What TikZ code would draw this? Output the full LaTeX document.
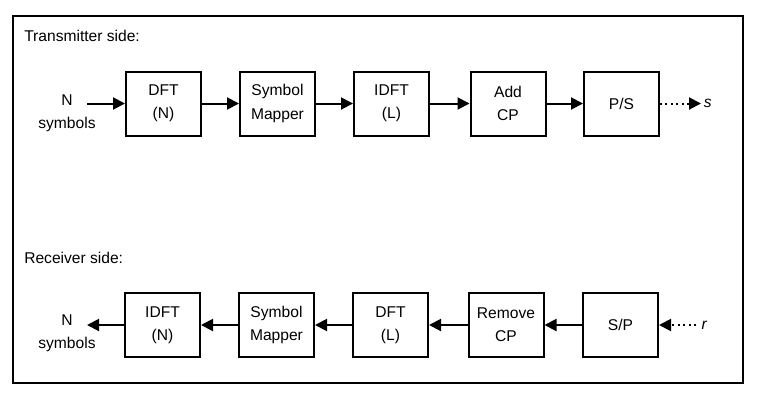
\documentclass[tikz,border=0pt]{standalone}
\usepackage{fontspec}
\setmainfont{Liberation Sans}
\usetikzlibrary{arrows.meta}

\tikzset{
  blk/.style={draw, line width=1.5pt, minimum width=56.25pt, minimum height=48pt, align=center, inner sep=0pt},
  lbl/.style={align=center, inner sep=0pt},
  flow/.style={line width=1.5pt, -{Triangle[length=9pt,width=9pt]}},
  dots/.style={flow, dash pattern=on 1.5pt off 2.6pt}
}

\begin{document}
\begin{tikzpicture}[x=0.75pt, y=-0.75pt, font=\fontsize{11.7}{17.5}\selectfont]

    % Rows
    \def\yt{103.5}   % transmitter, y
    \def\yr{325}     % receiver, y

    \useasboundingbox (0,0) rectangle (761,405);

    % Frame
    \draw[line width=1.5pt] (13,16) rectangle (743,383);

    % Transmitter side
    \node[anchor=west, inner sep=0pt] (txhead) at (24,35.5) {Transmitter side:};
    \node[lbl] (txsym) at (67,\yt+10) {N\\symbols};
    \coordinate (txin) at (87,\yt);
    \node[blk] (dftn)  at (163.5,\yt) {DFT\\(N)};
    \node[blk] (mapt)  at (277.5,\yt) {Symbol\\Mapper};
    \node[blk] (idftl) at (391.5,\yt) {IDFT\\(L)};
    \node[blk] (addcp) at (508,\yt)   {Add\\CP};
    \node[blk] (ps)    at (621.5,\yt) {P/S};
    \node[anchor=west, inner sep=2pt] (s) at (701,\yt) {\textit{s}};

    \draw[flow] (txin)  -- (dftn);
    \draw[flow] (dftn)  -- (mapt);
    \draw[flow] (mapt)  -- (idftl);
    \draw[flow] (idftl) -- (addcp);
    \draw[flow] (addcp) -- (ps);
    \draw[dots] (ps)    -- (s);

    % Receiver side
    \node[anchor=west, inner sep=0pt] (rxhead) at (24,257.5) {Receiver side:};
    \node[lbl] (rxsym) at (67,\yr+8) {N\\symbols};
    \coordinate (rxout) at (87,\yr);
    \node[blk] (idftn) at (162.5,\yr) {IDFT\\(N)};
    \node[blk] (mapr)  at (276.5,\yr) {Symbol\\Mapper};
    \node[blk] (dftl)  at (390.5,\yr) {DFT\\(L)};
    \node[blk] (remcp) at (506,\yr)   {Remove\\CP};
    \node[blk] (sp)    at (620.5,\yr) {S/P};
    \node[anchor=east, inner sep=4pt] (r) at (713,\yr) {\textit{r}};

    \draw[dots] (r)     -- (sp);
    \draw[flow] (sp)    -- (remcp);
    \draw[flow] (remcp) -- (dftl);
    \draw[flow] (dftl)  -- (mapr);
    \draw[flow] (mapr)  -- (idftn);
    \draw[flow] (idftn) -- (rxout);

\end{tikzpicture}
\end{document}
